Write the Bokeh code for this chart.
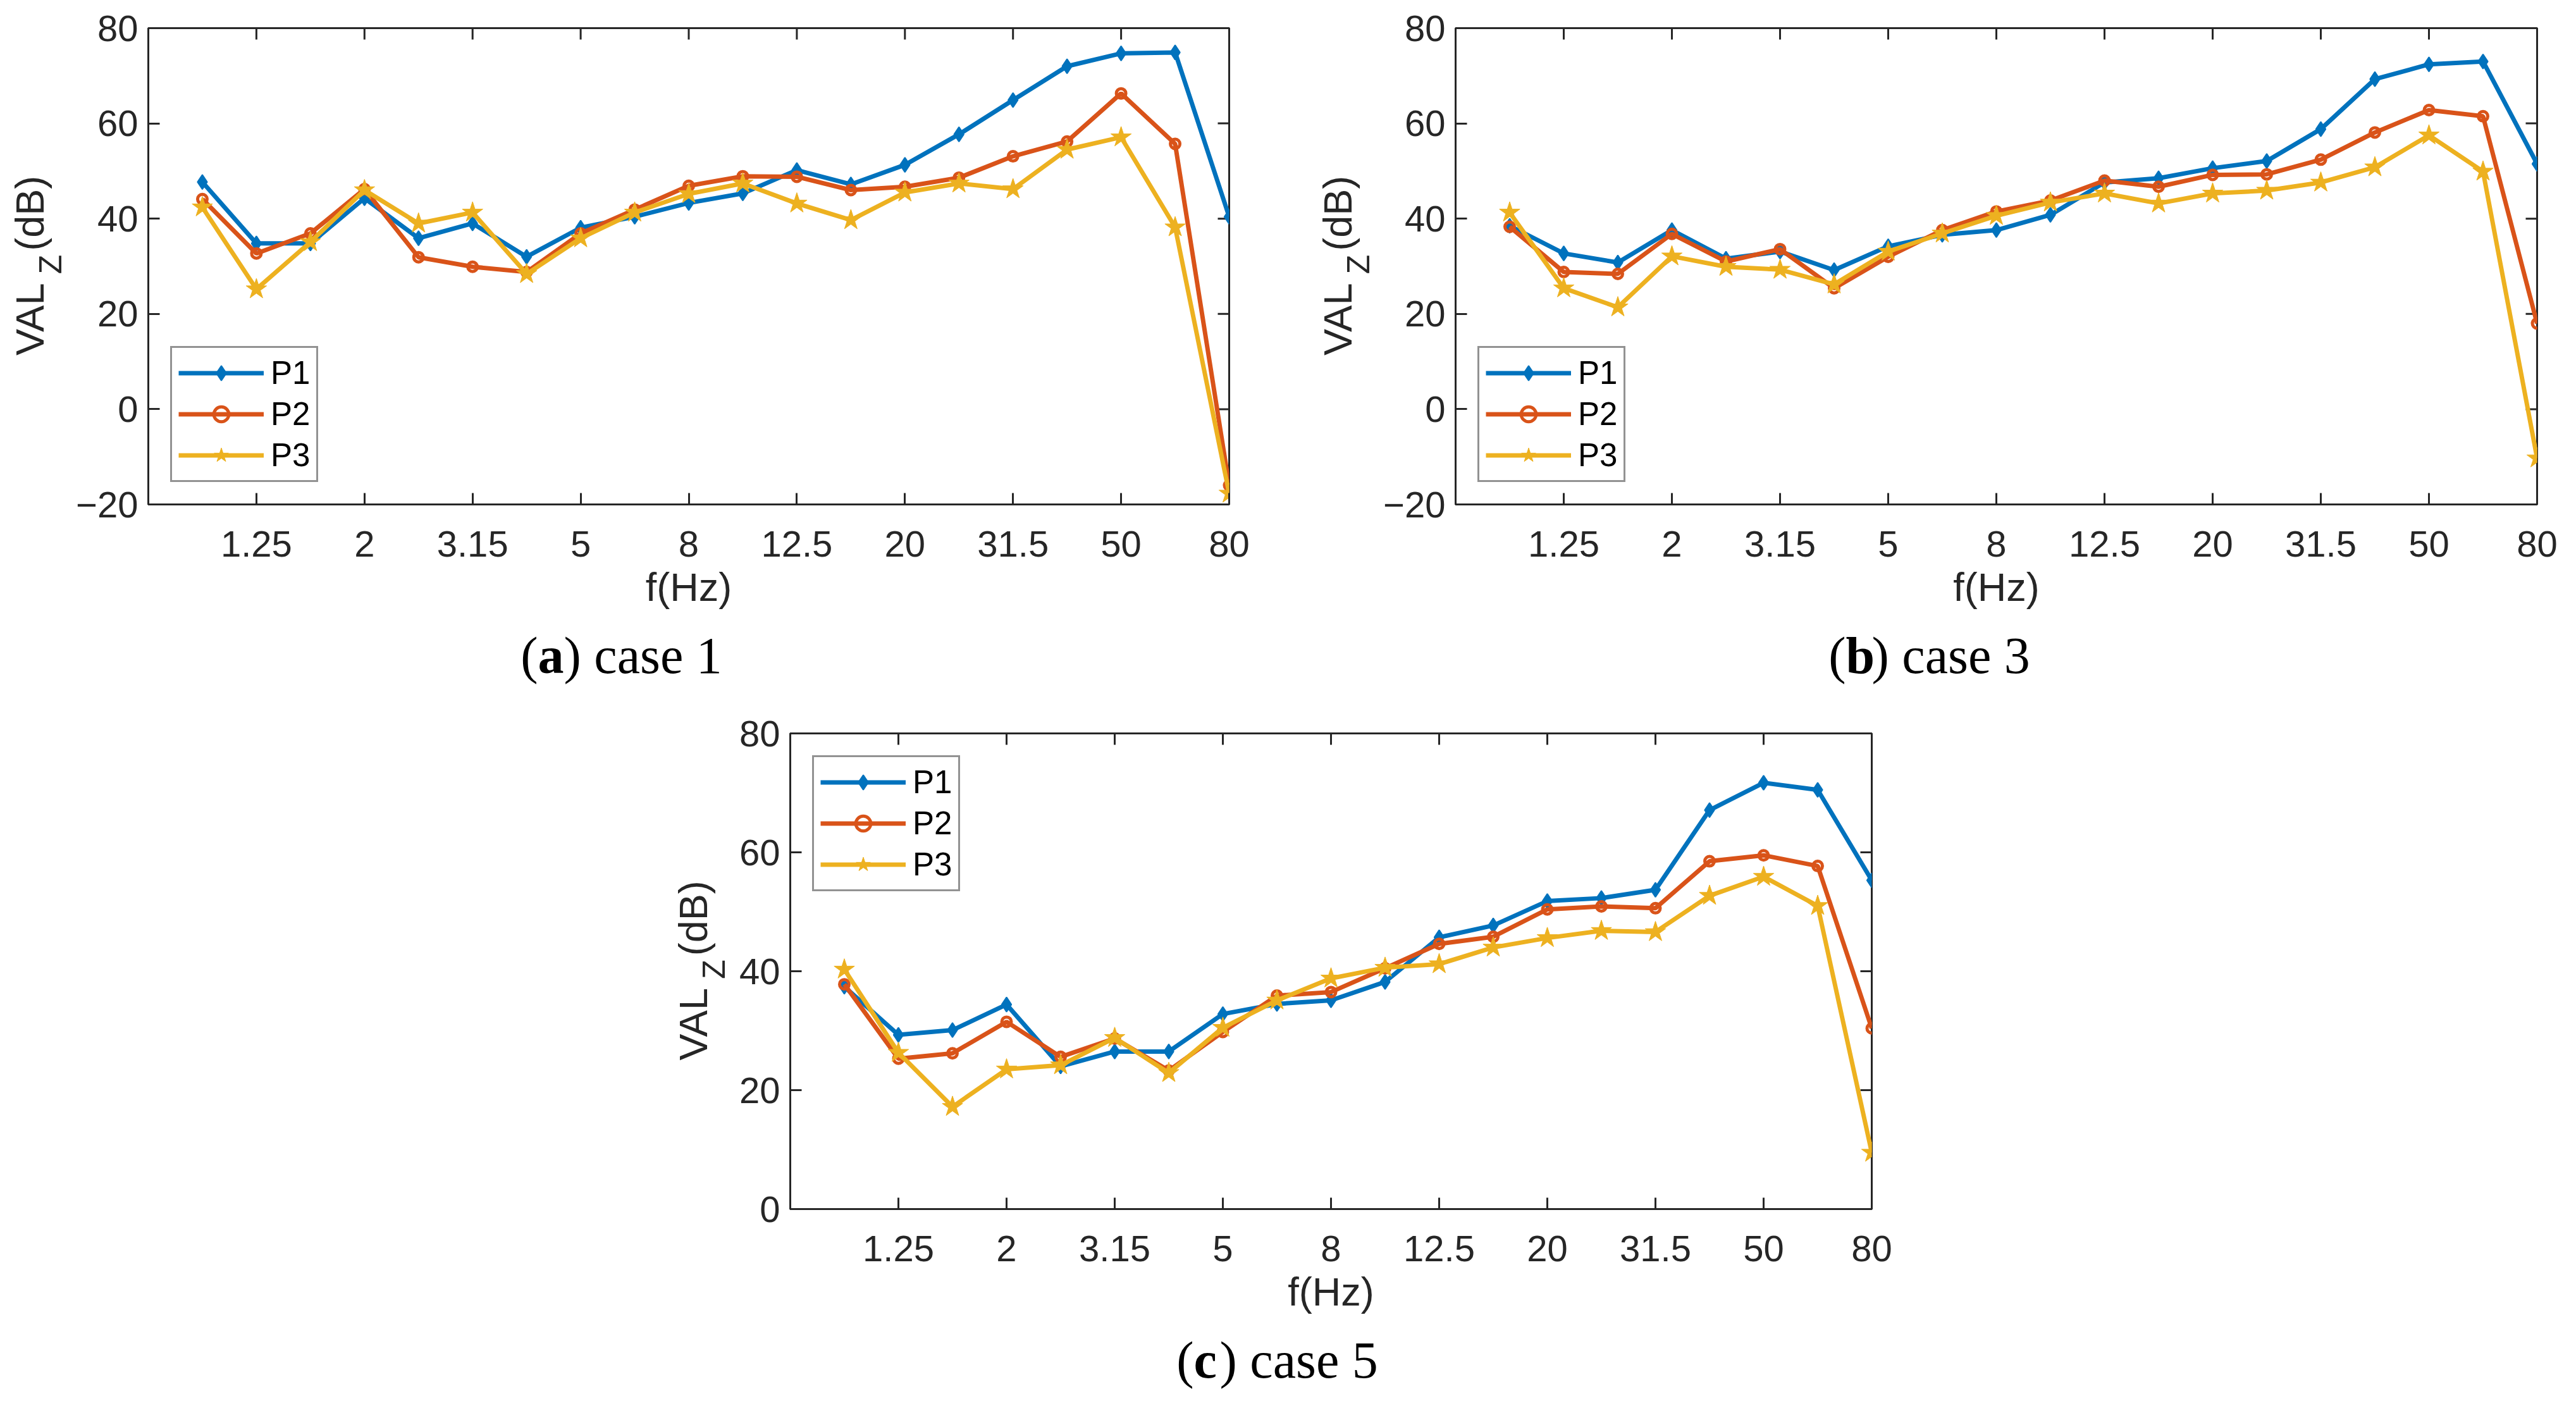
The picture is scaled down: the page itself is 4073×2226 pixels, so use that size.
import math
from bokeh.plotting import figure
from bokeh.models import Range1d, FixedTicker, Legend, LegendItem, Spacer
from bokeh.layouts import column, row
from bokeh.core.properties import value
from bokeh.embed import file_html
from bokeh.resources import INLINE

# ---------------- data ----------------
freqs = ["1", "1.25", "1.6", "2", "2.5", "3.15", "4", "5", "6.3", "8", "10",
         "12.5", "16", "20", "25", "31.5", "40", "50", "63", "80"]
tick_labels = ["1.25", "2", "3.15", "5", "8", "12.5", "20", "31.5", "50", "80"]
series_names = ["P1", "P2", "P3"]

case1_P1 = [47.7, 34.8, 34.8, 44.3, 35.9, 39.0, 32.0, 38.1, 40.4, 43.3, 45.3, 50.2, 47.2, 51.3, 57.7, 64.9, 72.0, 74.7, 74.9, 40.4]
case1_P2 = [44.1, 32.7, 36.9, 46.2, 31.9, 29.9, 28.8, 36.9, 41.9, 46.9, 48.9, 48.8, 46.0, 46.7, 48.6, 53.1, 56.2, 66.3, 55.7, -16.0]
case1_P3 = [42.4, 25.2, 35.1, 46.0, 39.0, 41.3, 28.4, 35.9, 41.3, 45.2, 47.4, 43.2, 39.7, 45.5, 47.4, 46.2, 54.5, 57.1, 38.2, -17.7]

case3_P1 = [38.5, 32.7, 30.8, 37.6, 31.6, 33.1, 29.2, 34.2, 36.6, 37.6, 40.8, 47.6, 48.5, 50.6, 52.1, 58.8, 69.3, 72.4, 73.0, 51.5]
case3_P2 = [38.3, 28.8, 28.4, 36.8, 31.0, 33.6, 25.4, 32.0, 37.6, 41.5, 43.8, 48.0, 46.7, 49.2, 49.3, 52.4, 58.1, 62.8, 61.5, 18.0]
case3_P3 = [41.3, 25.4, 21.4, 32.1, 29.9, 29.3, 26.2, 33.1, 36.9, 40.6, 43.4, 45.3, 43.2, 45.3, 45.9, 47.6, 50.8, 57.5, 49.9, -10.3]

case5_P1 = [37.4, 29.3, 30.1, 34.4, 24.0, 26.5, 26.5, 32.8, 34.5, 35.1, 38.2, 45.7, 47.7, 51.8, 52.3, 53.7, 67.1, 71.7, 70.5, 55.3]
case5_P2 = [37.8, 25.3, 26.2, 31.5, 25.6, 28.7, 23.3, 29.8, 35.9, 36.5, 40.5, 44.6, 45.8, 50.4, 50.9, 50.6, 58.5, 59.5, 57.7, 30.4]
case5_P3 = [40.3, 26.3, 17.2, 23.5, 24.2, 28.8, 22.9, 30.5, 35.1, 38.8, 40.6, 41.2, 44.0, 45.6, 46.8, 46.6, 52.7, 55.9, 51.0, 9.5]

yticks_ab = [-20, 0, 20, 40, 60, 80]
yticks_c = [0, 20, 40, 60, 80]

captions = [("a", ") case 1"), ("b", ") case 3"), ("c", ") case 5")]

# ---------------- style ----------------
COLORS = ["#0072BD", "#D95319", "#EDB120"]
AX = "#262626"
SANS = "Liberation Sans"
SERIF = "Liberation Serif"
TICK = 18

x_idx = list(range(1, len(freqs) + 1))
tick_pos = [freqs.index(t) + 1 for t in tick_labels]
overrides = {pos: lab for pos, lab in zip(tick_pos, tick_labels)}


def style_axis(ax):
    ax.axis_line_color = AX
    ax.axis_line_width = 3
    ax.major_tick_line_color = AX
    ax.major_tick_line_width = 3
    ax.major_tick_in = TICK
    ax.major_tick_out = 0
    ax.minor_tick_line_color = None
    ax.major_label_text_font = SANS
    ax.major_label_text_color = AX
    ax.major_label_text_font_size = "58px"


def make_panel(vals, yr, yticks, W, H, bl, bt, fw, fh, legend_loc):
    p = figure(width=W, height=H, x_range=Range1d(0, len(freqs)),
               y_range=Range1d(*yr), output_backend="svg", toolbar_location=None,
               min_border_left=bl, min_border_top=bt,
               min_border_right=W - bl - fw, min_border_bottom=H - bt - fh)
    p.grid.visible = False
    p.outline_line_color = AX
    p.outline_line_width = 3
    p.background_fill_color = "white"
    p.border_fill_color = "white"

    p.xaxis.ticker = FixedTicker(ticks=tick_pos)
    p.xaxis.major_label_overrides = overrides
    p.yaxis.ticker = FixedTicker(ticks=yticks)
    for ax in p.xaxis + p.yaxis:
        style_axis(ax)
    p.xaxis.major_label_standoff = 42
    p.yaxis.major_label_standoff = 16
    p.xaxis.axis_label = "f(Hz)"
    p.xaxis.axis_label_text_font = SANS
    p.xaxis.axis_label_text_font_size = "63px"
    p.xaxis.axis_label_text_font_style = "normal"
    p.xaxis.axis_label_text_color = AX
    p.xaxis.axis_label_standoff = 10

    # mirrored inward ticks on the top and right edges (half clipped by the frame)
    p.scatter(tick_pos, [yr[1]] * len(tick_pos), marker="dash", size=2 * TICK,
              angle=math.pi / 2, line_color=AX, line_width=3)
    p.scatter([len(freqs)] * len(yticks), yticks, marker="dash", size=2 * TICK,
              line_color=AX, line_width=3)

    items = []
    for k, (name, ys) in enumerate(zip(series_names, vals)):
        c = COLORS[k]
        ln = p.line(x_idx, ys, line_color=c, line_width=7)
        if k == 0:
            mk = p.scatter(x_idx, ys, marker="diamond", size=23, fill_color=c,
                           line_color=c, line_width=2)
        elif k == 1:
            mk = p.scatter(x_idx, ys, marker="circle", size=15, fill_color=None,
                           line_color=c, line_width=5)
        else:
            mk = p.scatter(x_idx, ys, marker="star", size=34, fill_color=c,
                           line_color=c, line_width=1)
        items.append(LegendItem(label=name, renderers=[ln, mk]))

    lg = Legend(items=items, location=legend_loc, margin=35,
                label_text_font=SANS, label_text_font_size="51px",
                label_text_color="black",
                glyph_width=135, glyph_height=59, label_height=59,
                label_standoff=11, spacing=6, padding=10,
                border_line_color=AX, border_line_width=3,
                background_fill_color="white", background_fill_alpha=1.0)
    p.add_layout(lg)
    return p


def text_canvas(w, h, bt=0, bb=0):
    """Blank canvas whose frame spans the full width and rows bt .. h-bb;
    data units are pixels (x from the left, y upward from the frame bottom)."""
    f = figure(width=w, height=h, x_range=Range1d(0, w), y_range=Range1d(0, h - bt - bb),
               output_backend="svg", toolbar_location=None,
               x_axis_location=None, y_axis_location=None,
               min_border_left=0, min_border_right=0, min_border_top=bt,
               min_border_bottom=bb)
    f.grid.visible = False
    f.outline_line_color = None
    f.background_fill_color = "white"
    f.border_fill_color = "white"
    return f


def ylabel_canvas(w, h, bt, fh, mid_x):
    """Rotated 'VAL' + subscript 'Z' + '(dB)', centred on the neighbouring frame.
    The canvas frame shares the plot's top/bottom borders (rows align frames)."""
    f = text_canvas(w, h, bt=bt, bb=h - bt - fh)
    fs_main, fs_sub = 63, 50
    w_val = 1.889 * fs_main
    w_z = 0.611 * fs_sub
    w_db = 1.889 * fs_main
    g1, g2 = 12, 6
    start = fh / 2 - (w_val + g1 + w_z + g2 + w_db) / 2   # lower end, from frame bottom
    c_val = start + w_val / 2
    c_z = start + w_val + g1 + w_z / 2
    c_db = start + w_val + g1 + w_z + g2 + w_db / 2
    common = dict(angle=math.pi / 2, text_font=value(SANS), text_color=AX,
                  text_align="center", text_baseline="middle")
    f.text(x=[mid_x, mid_x], y=[c_val, c_db], text=["VAL", "(dB)"],
           text_font_size=value(f"{fs_main}px"), **common)
    f.text(x=[mid_x + 33], y=[c_z], text=["Z"],
           text_font_size=value(f"{fs_sub}px"), **common)
    return f


def add_caption(f, h, letter, rest, cx, mid):
    fs = 82
    w_open = 0.333 * fs
    w_letter = 0.5 * fs
    w_rest = (0.333 + 0.25 + 0.444 + 0.444 + 0.389 + 0.444 + 0.25 + 0.5) * fs
    x0 = cx - (w_open + w_letter + w_rest) / 2
    common = dict(text_font=value(SERIF), text_font_size=value(f"{fs}px"),
                  text_color="black", text_align="left", text_baseline="middle")
    f.text(x=[x0, x0 + w_open + w_letter], y=[h - mid, h - mid], text=["(", rest], **common)
    f.text(x=[x0 + w_open], y=[h - mid], text=[letter], text_font_style="bold", **common)


# ---------------- layout ----------------
H1 = 990
pa = make_panel([case1_P1, case1_P2, case1_P3], (-20, 80), yticks_ab,
                W=1953, H=H1, bl=120, bt=44, fw=1709, fh=753, legend_loc="bottom_left")
pb = make_panel([case3_P1, case3_P2, case3_P3], (-20, 80), yticks_ab,
                W=1874, H=H1, bl=118, bt=44, fw=1710, fh=753, legend_loc="bottom_left")
pc = make_panel([case5_P1, case5_P2, case5_P3], (0, 80), yticks_c,
                W=1900, H=H1, bl=90, bt=49, fw=1710, fh=752, legend_loc="top_left")

la = ylabel_canvas(114, H1, 44, 753, 46.5)
lb = ylabel_canvas(116, H1, 44, 753, 47.5)
lc = ylabel_canvas(150, H1, 49, 752, 86.5)

cap1 = text_canvas(4057, 120)
add_caption(cap1, 120, captions[0][0], captions[0][1], 982, 46)
add_caption(cap1, 120, captions[1][0], captions[1][1], 3050, 46)
cap2 = text_canvas(4057, 110)
add_caption(cap2, 110, captions[2][0], captions[2][1], 2019, 50)

layout = column(row(la, pa, lb, pb), cap1,
                row(Spacer(width=1009, height=H1), lc, pc), cap2)

open("out.html", "w").write(file_html(layout, INLINE))
